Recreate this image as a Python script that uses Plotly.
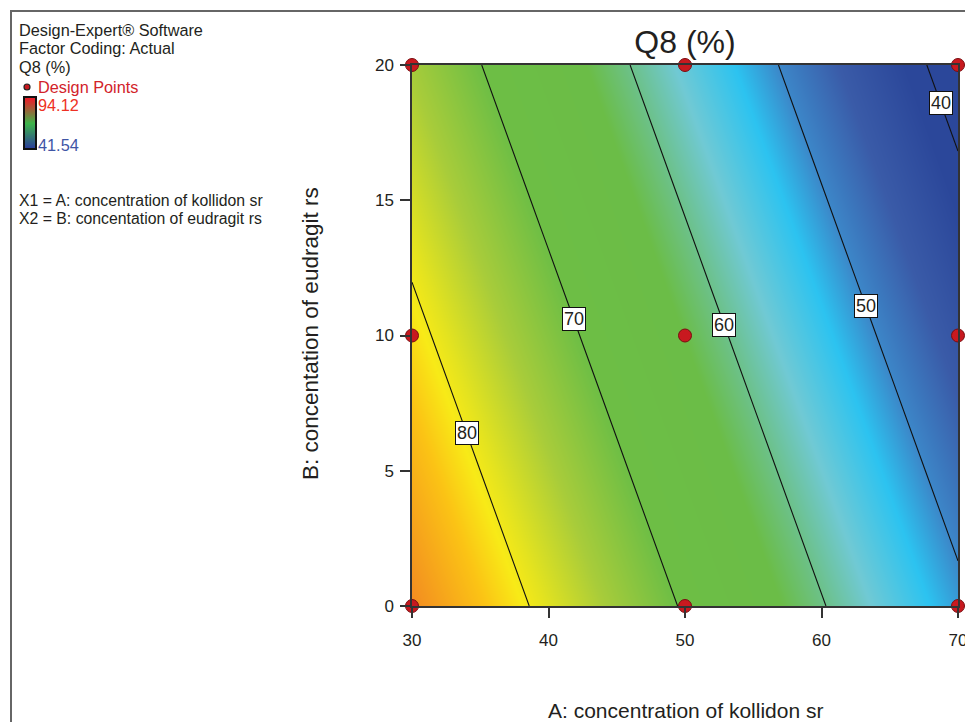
import numpy as np
import plotly.graph_objects as go

# ---------------- data ----------------
A_vals = [30, 40, 50, 60, 70]          # A: concentration of kollidon sr
B_vals = [0, 5, 10, 15, 20]            # B: concentation of eudragit rs
# Q8 (%) response surface, rows = B, cols = A
Q8 = [
    [87.9, 78.7, 69.5, 60.3, 51.1],
    [84.6, 75.4, 66.2, 57.0, 47.8],
    [81.3, 72.1, 62.9, 53.7, 44.5],
    [78.0, 68.8, 59.6, 50.4, 41.2],
    [74.7, 65.5, 56.3, 47.1, 37.9],
]
q_min, q_max = 41.54, 94.12
contour_levels = [40, 50, 60, 70, 80]
label_B = [18.6, 11.1, 10.4, 10.6, 6.4]   # B value where each contour label sits

design_A = [30, 50, 70, 30, 50, 70, 30, 50, 70]
design_B = [0, 0, 0, 10, 10, 10, 20, 20, 20]

x_ticks = [30, 40, 50, 60, 70]
y_ticks = [0, 5, 10, 15, 20]

# ---------------- layout helpers ----------------
W, H = 965, 722
ML, MR, MT, MB = 10, 7, 65, 116
PW, PH = W - ML - MR, H - MT - MB
def px(x):
    return (x - ML) / PW
def py(y):
    return (H - MB - y) / PH

FONT = "Liberation Sans, Arial, sans-serif"
TXT = "#231f20"

def frac(q):
    return (q - q_min) / (q_max - q_min)

colorscale = [
    [0.0, "#2b479a"],
    [frac(46), "#3a5ba8"],
    [frac(50), "#3c86c8"],
    [frac(53), "#2cc3f0"],
    [frac(57), "#70c9d4"],
    [frac(60), "#6cc18a"],
    [frac(63), "#6bbd47"],
    [frac(70), "#6dbe45"],
    [frac(75), "#a8cc3a"],
    [frac(79), "#e4e31f"],
    [frac(80.5), "#f8ea17"],
    [frac(83), "#fbc315"],
    [frac(88), "#f28a21"],
    [1.0, "#e3201f"],
]

fig = go.Figure()

fig.add_trace(go.Heatmap(
    x=A_vals, y=B_vals, z=Q8, zmin=q_min, zmax=q_max,
    colorscale=colorscale, zsmooth="best", showscale=False, hoverinfo="skip",
))

fig.add_trace(go.Contour(
    x=A_vals, y=B_vals, z=Q8,
    contours=dict(start=contour_levels[0], end=contour_levels[-1], size=10,
                  coloring="none", showlabels=False),
    line=dict(color="#111111", width=1.1), showscale=False, hoverinfo="skip",
))

fig.add_trace(go.Scatter(
    x=design_A, y=design_B, mode="markers", cliponaxis=False,
    marker=dict(size=13, color="#c8191f", line=dict(color="#7a0d10", width=1)),
    hoverinfo="skip", showlegend=False,
))

# legend gradient bar
bar_z = [[v] for v in np.linspace(q_min, q_max, 50)]
fig.add_trace(go.Heatmap(
    z=bar_z, xaxis="x2", yaxis="y2", zsmooth="best", showscale=False,
    colorscale=[[0, "#2b3f99"], [0.5, "#3db54a"], [1, "#e8202a"]], hoverinfo="skip",
))

# contour labels: locate A on each level at the given B via the grid
Qarr = np.array(Q8)
annotations = []
for lvl, bl in zip(contour_levels, label_B):
    row = np.array([np.interp(bl, B_vals, Qarr[:, j]) for j in range(len(A_vals))])
    a_at = float(np.interp(lvl, row[::-1], np.array(A_vals)[::-1]))
    annotations.append(dict(
        x=a_at, y=bl, xref="x", yref="y", text=str(lvl), showarrow=False,
        font=dict(family=FONT, size=18, color=TXT),
        bgcolor="white", bordercolor="#111111", borderwidth=1, borderpad=1,
    ))

def note(text, x, y, size=16.3, color=TXT, anchor="left", **kw):
    d = dict(x=px(x), y=py(y), xref="paper", yref="paper", text=text,
             showarrow=False, xanchor=anchor, yanchor="middle",
             font=dict(family=FONT, size=size, color=color))
    d.update(kw)
    annotations.append(d)

note("Design-Expert® Software", 17, 30)
note("Factor Coding: Actual", 17, 48.5)
note("Q8 (%)", 17, 67)
note("Design Points", 36, 87, color="#d2232a")
note("94.12", 36, 105.5, color="#ee3124")
note("41.54", 36, 144.5, color="#3f55a5")
note("X1 = A: concentration of kollidon sr", 17, 201, size=15.8)
note("X2 = B: concentation of eudragit rs", 17, 218, size=15.8)

# axis titles
note("A: concentration of kollidon sr", 685, 710, size=21, anchor="center")
note("B: concentation of eudragit rs", 310, 334, size=22.5, anchor="center", textangle=-90)

axis_common = dict(
    showline=True, mirror=True, linecolor="#333333", linewidth=1.5,
    ticks="outside", ticklen=10, tickwidth=1.5, tickcolor="#333333",
    showgrid=False, zeroline=False, automargin=False, ticklabeloverflow="allow",
    tickfont=dict(family=FONT, size=17, color=TXT),
)

fig.update_layout(
    width=W, height=H,
    margin=dict(l=ML, r=MR, t=MT, b=MB, autoexpand=False),
    paper_bgcolor="white", plot_bgcolor="white",
    showlegend=False,
    title=dict(text="Q8 (%)", x=px(685), xref="paper", xanchor="center",
               y=1 - 42 / H, yref="container", yanchor="middle",
               font=dict(family=FONT, size=32, color=TXT)),
    xaxis=dict(domain=[px(412), px(958)], range=[30, 70], tickvals=x_ticks,
               ticklabelstandoff=8, **axis_common),
    yaxis=dict(domain=[0, 1], range=[0, 20], tickvals=y_ticks,
               ticklabelstandoff=3, **axis_common),
    xaxis2=dict(domain=[px(25), px(35)], anchor="y2", showticklabels=False,
                showline=True, mirror=True, linecolor="#111", linewidth=1.5,
                ticks="", showgrid=False, zeroline=False, fixedrange=True,
                automargin=False),
    yaxis2=dict(domain=[py(148), py(98)], anchor="x2", showticklabels=False,
                showline=True, mirror=True, linecolor="#111", linewidth=1.5,
                ticks="", showgrid=False, zeroline=False, fixedrange=True,
                automargin=False),
    annotations=annotations,
    shapes=[
        dict(type="rect", xref="paper", yref="paper",
             x0=px(11), y0=py(900), x1=px(1200), y1=py(11),
             line=dict(color="#666666", width=2), layer="below"),
        dict(type="circle", xref="paper", yref="paper",
             x0=px(24), x1=px(30), y0=py(90), y1=py(84),
             fillcolor="#c8191f", line=dict(color="#222222", width=1.2)),
    ],
)

fig.write_html("out.html", config={"displayModeBar": False},
               post_script="document.body.style.margin='0';document.body.style.overflow='hidden';")
